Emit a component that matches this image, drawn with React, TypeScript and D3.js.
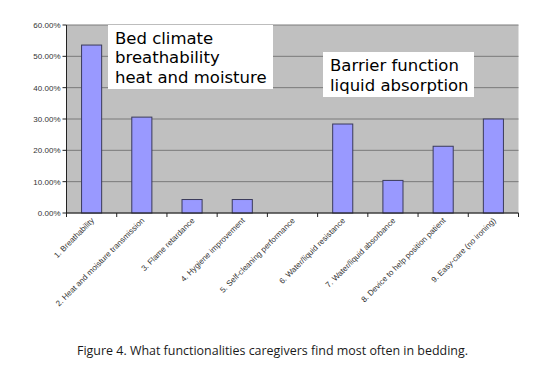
import React from "react";
import * as d3 from "d3";

const categories = [
  "1. Breathability",
  "2. Heat and moisture transmission",
  "3. Flame retardance",
  "4. Hygiene improvement",
  "5. Self-cleaning performance",
  "6. Water/liquid resistance",
  "7. Water/liquid absorbance",
  "8. Device to help position patient",
  "9. Easy-care (no ironing)",
];
const values = [53.6, 30.6, 4.3, 4.3, 0, 28.4, 10.4, 21.3, 30.0];
const yTicks = [0, 10, 20, 30, 40, 50, 60];
const box1Lines = ["Bed climate", "breathability", "heat and moisture"];
const box2Lines = ["Barrier function", "liquid absorption"];
const caption = "Figure 4. What functionalities caregivers find most often in bedding.";

export default function App() {
  const W = 554, H = 376;
  const left = 66.5, right = 518.5, top = 25, bottom = 213;
  const x = d3.scaleBand<string>().domain(categories).range([left, right]).padding(0);
  const y = d3.scaleLinear().domain([0, 60]).range([bottom, top]);
  const bw = x.bandwidth() * 0.4;
  const axisFont = "'Liberation Sans', Arial, sans-serif";
  const boxFont = "'DejaVu Sans', Verdana, sans-serif";

  return (
    <svg width={W} height={H} style={{ position: "absolute", left: 0, top: 0, background: "#fff" }}>
      <rect x={left} y={top} width={right - left} height={bottom - top} fill="#c0c0c0" />
      {yTicks.map((t) => (
        <line key={"g" + t} x1={left} x2={right} y1={y(t)} y2={y(t)} stroke="#7a7a7a" strokeWidth={1} />
      ))}
      {categories.map((c, i) => (
        <rect
          key={c}
          x={(x(c) as number) + (x.bandwidth() - bw) / 2}
          y={y(values[i])}
          width={bw}
          height={bottom - y(values[i])}
          fill="#9999ff"
          stroke="#3a3a5a"
          strokeWidth={1}
        />
      ))}
      {/* y axis */}
      <line x1={left} x2={left} y1={top} y2={bottom} stroke="#222" strokeWidth={1} />
      {yTicks.map((t) => (
        <g key={"t" + t}>
          <line x1={left - 4} x2={left} y1={y(t)} y2={y(t)} stroke="#222" />
          <text x={left - 6} y={y(t) + 3} textAnchor="end" fontFamily={axisFont} fontSize={8} fill="#333">
            {d3.format(".2f")(t) + "%"}
          </text>
        </g>
      ))}
      {/* x axis */}
      <line x1={left} x2={right} y1={bottom} y2={bottom} stroke="#222" strokeWidth={1} />
      {categories.map((c, i) => (
        <line
          key={"xt" + i}
          x1={(x(c) as number)}
          x2={(x(c) as number)}
          y1={bottom}
          y2={bottom + 4}
          stroke="#222"
        />
      ))}
      <line x1={right} x2={right} y1={bottom} y2={bottom + 4} stroke="#222" />
      {categories.map((c) => {
        const cx = (x(c) as number) + x.bandwidth() / 2;
        return (
          <text
            key={"xl" + c}
            transform={`translate(${cx + 3},${bottom + 8}) rotate(-45)`}
            textAnchor="end"
            fontFamily={axisFont}
            fontSize={8}
            fill="#333"
          >
            {c}
          </text>
        );
      })}
      {/* annotation boxes */}
      <rect x={108} y={25} width={165} height={64} fill="#fff" />
      {box1Lines.map((l, i) => (
        <text key={"b1" + i} x={115} y={43.5 + i * 19.7} fontFamily={boxFont} fontSize={16.5} fill="#000">
          {l}
        </text>
      ))}
      <rect x={323} y={52} width={151} height={45} fill="#fff" />
      {box2Lines.map((l, i) => (
        <text key={"b2" + i} x={330} y={71 + i * 20} fontFamily={boxFont} fontSize={16.5} fill="#000">
          {l}
        </text>
      ))}
      <text x={77} y={355} fontFamily="'Open Sans', 'Noto Sans', sans-serif" fontSize={12} fill="#1a1a1a" textLength={391} lengthAdjust="spacingAndGlyphs">
        {caption}
      </text>
    </svg>
  );
}
